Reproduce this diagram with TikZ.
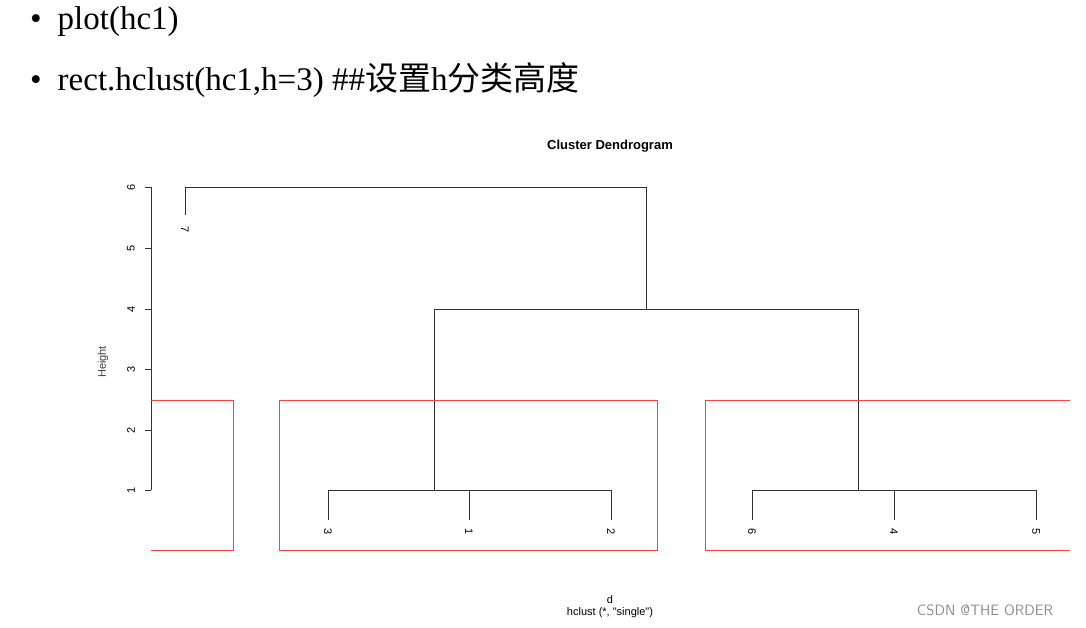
\documentclass[tikz,border=0pt]{standalone}
\usepackage{fontspec}
\setmainfont{Liberation Serif}
\newfontfamily\cjk{Noto Sans CJK SC}
\newfontfamily\lsans{Liberation Sans}
\begin{document}
\begin{tikzpicture}[x=1pt,y=-1pt,
  dl/.style={draw=black!80,line width=0.7pt},
  rr/.style={draw=red!75,line width=0.8pt},
  lab/.style={font=\lsans\fontsize{11}{11}\selectfont,inner sep=0pt},
  leaf/.style={lab,rotate=-90}]
\useasboundingbox (0,0) rectangle (1086,627);
\node[anchor=west,font=\fontsize{33}{33}\selectfont,inner sep=0pt] (b1) at (30,22) {\textbullet\hspace{16pt}plot(hc1)};
\node[anchor=west,font=\fontsize{33}{33}\selectfont,inner sep=0pt] (b2) at (30,80) {\textbullet\hspace{16pt}rect.hclust(hc1,h=3) \#\#{\cjk 设置}h{\cjk 分类高度}};
\node[lab,font=\lsans\bfseries\fontsize{13}{13}\selectfont] (t) at (610,146) {Cluster Dendrogram};
% axis
\draw[dl] (151,187) -- (151,490);
\foreach \v/\y in {6/187,5/248,4/309,3/369,2/430,1/490}{
  \draw[dl] (145,\y) -- (151,\y);
  \node[lab,rotate=90] (ax\v) at (131,\y) {\v};
}
\node[lab,rotate=90,text=black!75] (h) at (103,362) {Height};
% dendrogram
\draw[dl] (185,215) -- (185,187) -- (646,187) -- (646,309);
\draw[dl] (434,309) -- (858,309);
\draw[dl] (434,309) -- (434,490); \draw[dl] (858,309) -- (858,490);
\draw[dl] (328,520) -- (328,490) -- (611,490) -- (611,520); \draw[dl] (469,490) -- (469,520);
\draw[dl] (752,520) -- (752,490) -- (1036,490) -- (1036,520); \draw[dl] (894,490) -- (894,520);
\foreach \n/\x/\y in {7/185/230,3/328/532,1/469/532,2/611/532,6/752/532,4/894/532,5/1036/532}
  \node[leaf] (l\n) at (\x,\y) {\n};
% red rectangles
\draw[rr] (151,400) -- (233,400) -- (233,550) -- (151,550);
\draw[rr] (279,400) rectangle (657,550);
\draw[rr] (1070,400) -- (705,400) -- (705,550) -- (1070,550);
\node[lab] (d) at (610,600) {d};
\node[lab] (hc) at (610,613) {hclust (*, "single")};
\node[lab,font=\fontsize{15}{15}\selectfont\sffamily,text=black!45] (w) at (985,610) {CSDN @THE ORDER};
\end{tikzpicture}
\end{document}
